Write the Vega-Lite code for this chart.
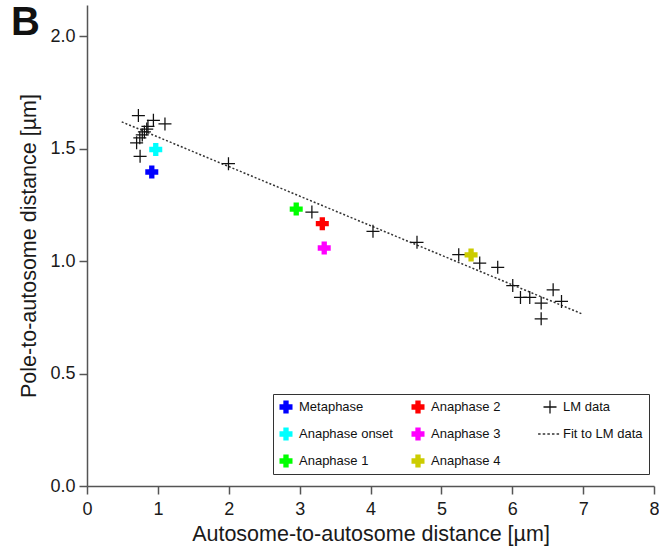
{
  "$schema": "https://vega.github.io/schema/vega-lite/v6.json",
  "autosize": {"type": "none"},
  "padding": {"left": 87, "top": 5, "right": 5, "bottom": 60},
  "width": 567,
  "height": 481,
  "background": "white",
  "title": {"text": "B", "anchor": "start", "frame": "group", "fontSize": 40, "fontWeight": "bold", "font": "Liberation Sans", "color": "#111", "dx": -76, "dy": 38, "offset": 0},
  "config": {
    "view": {"stroke": null},
    "axis": {"domainColor": "#555", "domainWidth": 1.5, "tickColor": "#555", "tickWidth": 1.5, "tickSize": 8, "labelFontSize": 18, "titleFontSize": 21.5, "labelColor": "#1a1a1a", "titleColor": "#1a1a1a", "labelFont": "Liberation Sans", "titleFont": "Liberation Sans", "titleFontWeight": "normal", "grid": false, "labelFlush": false},
    "legend": {"labelFontSize": 13, "labelFont": "Liberation Sans", "labelColor": "#111", "symbolSize": 196, "labelOffset": 6, "symbolStrokeWidth": 0, "strokeColor": "#333", "padding": 6, "rowPadding": 13, "columnPadding": 13, "gridAlign": "all", "columns": 3}
  },
  "layer": [
    {
      "data": {"values": [{"x": 0.49, "y": 1.62}, {"x": 6.99, "y": 0.765}]},
      "mark": {"type": "line", "color": "#333", "strokeWidth": 1.5, "strokeDash": [2, 2]},
      "encoding": {
        "x": {"field": "x", "type": "quantitative"},
        "y": {"field": "y", "type": "quantitative"}
      }
    },
    {
      "data": {"values": [
        {"x": 0.725, "y": 1.648, "series": "LM data"},
        {"x": 0.937, "y": 1.627, "series": "LM data"},
        {"x": 1.10, "y": 1.611, "series": "LM data"},
        {"x": 0.86, "y": 1.60, "series": "LM data"},
        {"x": 0.843, "y": 1.588, "series": "LM data"},
        {"x": 0.81, "y": 1.575, "series": "LM data"},
        {"x": 0.78, "y": 1.562, "series": "LM data"},
        {"x": 0.745, "y": 1.549, "series": "LM data"},
        {"x": 0.70, "y": 1.527, "series": "LM data"},
        {"x": 0.749, "y": 1.467, "series": "LM data"},
        {"x": 1.996, "y": 1.434, "series": "LM data"},
        {"x": 3.173, "y": 1.219, "series": "LM data"},
        {"x": 4.035, "y": 1.133, "series": "LM data"},
        {"x": 4.656, "y": 1.084, "series": "LM data"},
        {"x": 5.245, "y": 1.029, "series": "LM data"},
        {"x": 5.541, "y": 0.992, "series": "LM data"},
        {"x": 5.795, "y": 0.973, "series": "LM data"},
        {"x": 6.007, "y": 0.892, "series": "LM data"},
        {"x": 6.116, "y": 0.839, "series": "LM data"},
        {"x": 6.247, "y": 0.839, "series": "LM data"},
        {"x": 6.408, "y": 0.814, "series": "LM data"},
        {"x": 6.408, "y": 0.744, "series": "LM data"},
        {"x": 6.577, "y": 0.873, "series": "LM data"},
        {"x": 6.695, "y": 0.821, "series": "LM data"},
        {"x": 0.914, "y": 1.397, "series": "Metaphase"},
        {"x": 0.97, "y": 1.497, "series": "Anaphase onset"},
        {"x": 2.952, "y": 1.232, "series": "Anaphase 1"},
        {"x": 3.32, "y": 1.167, "series": "Anaphase 2"},
        {"x": 3.347, "y": 1.059, "series": "Anaphase 3"},
        {"x": 5.419, "y": 1.028, "series": "Anaphase 4"}
      ]},
      "mark": {"type": "point", "filled": true, "opacity": 1, "size": 196, "strokeWidth": 0},
      "encoding": {
        "x": {"field": "x", "type": "quantitative", "title": "Autosome-to-autosome distance [µm]", "scale": {"domain": [0, 8], "nice": false, "zero": false}, "axis": {"values": [0, 1, 2, 3, 4, 5, 6, 7, 8], "format": "d", "labelPadding": 6, "titlePadding": 5}},
        "y": {"field": "y", "type": "quantitative", "title": "Pole-to-autosome distance [µm]", "scale": {"domain": [0, 2.14], "nice": false, "zero": false}, "axis": {"values": [0, 0.5, 1, 1.5, 2], "format": ".1f", "labelPadding": 4, "titlePadding": 9}},
        "color": {
          "field": "series", "type": "nominal",
          "scale": {
            "domain": ["Metaphase", "Anaphase onset", "Anaphase 1", "Anaphase 2", "Anaphase 3", "Anaphase 4", "LM data", "Fit to LM data"],
            "range": ["#0000ff", "#00ffff", "#00ff00", "#ff0000", "#ff00ff", "#cccc00", "#111111", "#333333"]
          },
          "legend": {"title": null, "orient": "none", "legendX": 186, "legendY": 389}
        },
        "shape": {
          "field": "series", "type": "nominal",
          "scale": {
            "domain": ["Metaphase", "Anaphase onset", "Anaphase 1", "Anaphase 2", "Anaphase 3", "Anaphase 4", "LM data", "Fit to LM data"],
            "range": [
              "M-0.38,-0.93H0.38V-0.38H0.93V0.38H0.38V0.93H-0.38V0.38H-0.93V-0.38H-0.38Z",
              "M-0.38,-0.93H0.38V-0.38H0.93V0.38H0.38V0.93H-0.38V0.38H-0.93V-0.38H-0.38Z",
              "M-0.38,-0.93H0.38V-0.38H0.93V0.38H0.38V0.93H-0.38V0.38H-0.93V-0.38H-0.38Z",
              "M-0.38,-0.93H0.38V-0.38H0.93V0.38H0.38V0.93H-0.38V0.38H-0.93V-0.38H-0.38Z",
              "M-0.38,-0.93H0.38V-0.38H0.93V0.38H0.38V0.93H-0.38V0.38H-0.93V-0.38H-0.38Z",
              "M-0.38,-0.93H0.38V-0.38H0.93V0.38H0.38V0.93H-0.38V0.38H-0.93V-0.38H-0.38Z",
              "M-0.09,-0.93H0.09V-0.09H0.93V0.09H0.09V0.93H-0.09V0.09H-0.93V-0.09H-0.09Z",
              "M-1.7,-0.09H-1.34V0.09H-1.7ZM-1.04,-0.09H-0.68V0.09H-1.04ZM-0.38,-0.09H-0.02V0.09H-0.38ZM0.28,-0.09H0.64V0.09H0.28ZM0.94,-0.09H1.3V0.09H0.94Z"
            ]
          },
          "legend": {"title": null, "orient": "none", "legendX": 186, "legendY": 389}
        }
      }
    }
  ]
}
